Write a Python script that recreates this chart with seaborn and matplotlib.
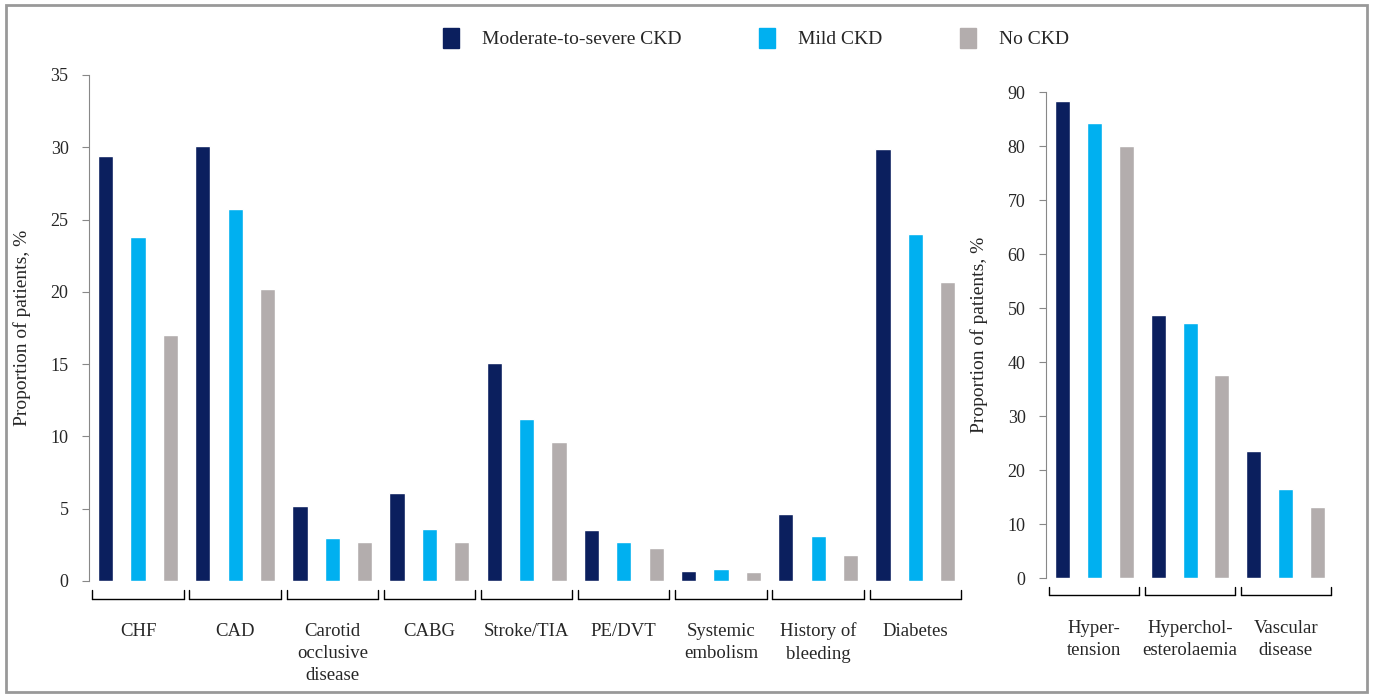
import matplotlib.pyplot as plt
import matplotlib.patches as mpatches
import pandas as pd
import seaborn as sns

SERIES = ["Moderate-to-severe CKD", "Mild CKD", "No CKD"]
COLORS = ["#0b1f5e", "#00b0f0", "#b3adad"]

LEFT_CATS = ["CHF", "CAD", "Carotid\nocclusive\ndisease", "CABG", "Stroke/TIA",
             "PE/DVT", "Systemic\nembolism", "History of\nbleeding", "Diabetes"]
LEFT_MOD = [29.4, 30.1, 5.2, 6.1, 15.1, 3.5, 0.7, 4.6, 29.9]
LEFT_MILD = [23.8, 25.7, 3.0, 3.6, 11.2, 2.7, 0.8, 3.1, 24.0]
LEFT_NO = [17.0, 20.2, 2.7, 2.7, 9.6, 2.3, 0.6, 1.8, 20.7]

RIGHT_CATS = ["Hyper-\ntension", "Hyperchol-\nesterolaemia", "Vascular\ndisease"]
RIGHT_MOD = [88.3, 48.7, 23.5]
RIGHT_MILD = [84.3, 47.3, 16.5]
RIGHT_NO = [80.0, 37.6, 13.2]


def to_long(cats, a, b, c):
    rows = []
    for vals, s in zip([a, b, c], SERIES):
        for cat, v in zip(cats, vals):
            rows.append({"cat": cat, "series": s, "value": v})
    return pd.DataFrame(rows)


sns.set_style("white")
plt.rcParams["font.family"] = ["Liberation Serif", "DejaVu Serif"]

fig = plt.figure(figsize=(13.75, 6.94), dpi=100)
ax1 = fig.add_axes([0.065, 0.163, 0.636, 0.729])
ax2 = fig.add_axes([0.761, 0.167, 0.209, 0.700])


def draw(ax, cats, a, b, c, ymax, step):
    df = to_long(cats, a, b, c)
    sns.barplot(data=df, x="cat", y="value", hue="series", order=cats,
                hue_order=SERIES, palette=COLORS, width=1.0, gap=0.53,
                legend=False, ax=ax, saturation=1)
    ax.set_xlim(-0.5, len(cats) - 0.5)
    ax.set_ylim(0, ymax)
    ax.set_yticks(range(0, ymax + 1, step))
    ax.set_xlabel("")
    ax.set_ylabel("Proportion of patients, %", fontsize=14, labelpad=14)
    for s in ["top", "right", "bottom"]:
        ax.spines[s].set_visible(False)
    ax.spines["left"].set_color("#888888")
    ax.tick_params(axis="y", labelsize=13, length=5, pad=10, color="#888888", left=True)
    ax.tick_params(axis="x", length=0, labelsize=13.5, pad=30)
    ax.set_xticks(range(len(cats)))
    ax.set_xticklabels(cats, va="top", linespacing=1.4)
    tr = ax.get_xaxis_transform()
    for i in range(len(cats)):
        x0, x1 = i - 0.47, i + 0.47
        ax.plot([x0, x1], [-0.035, -0.035], color="black", lw=1, transform=tr, clip_on=False)
        for xx in (x0, x1):
            ax.plot([xx, xx], [-0.035, -0.018], color="black", lw=1, transform=tr, clip_on=False)


draw(ax1, LEFT_CATS, LEFT_MOD, LEFT_MILD, LEFT_NO, 35, 5)
draw(ax2, RIGHT_CATS, RIGHT_MOD, RIGHT_MILD, RIGHT_NO, 90, 10)

handles = [mpatches.Patch(color=c, label=s) for c, s in zip(COLORS, SERIES)]
fig.legend(handles=handles, loc="upper center", bbox_to_anchor=(0.55, 0.985), ncol=3,
           frameon=False, fontsize=14, handlelength=0.8, handleheight=1.2,
           columnspacing=4, handletextpad=1.2)

fig.patches.append(mpatches.Rectangle((0.004, 0.003), 0.99, 0.99, transform=fig.transFigure,
                                      fill=False, edgecolor="#999999", lw=2))
fig.savefig("out.png", dpi=100)
